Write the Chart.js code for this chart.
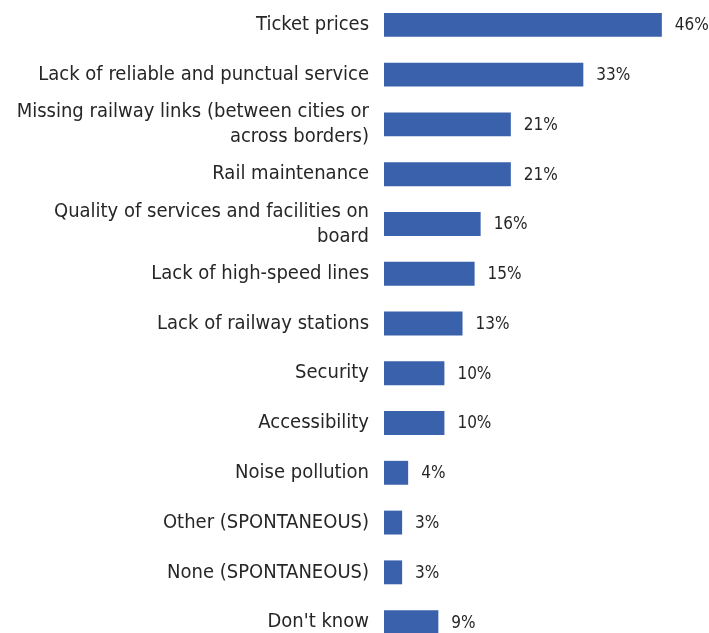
<!DOCTYPE html>
<html lang="en">
<head>
  <meta charset="UTF-8">
  <script src="https://cdn.jsdelivr.net/npm/chart.js"></script>
  <title>Rail problems</title>
  <style>
    html, body { margin: 0; padding: 0; background: #fff; overflow: hidden; }
    #wrap { width: 709px; height: 647px; }
  </style>
</head>
<body>
  <div id="wrap"><canvas id="chart"></canvas></div>
  <script>
    // Answers, top to bottom
    const categories = [
      'Ticket prices',
      'Lack of reliable and punctual service',
      ['Missing railway links (between cities or', 'across borders)'],
      'Rail maintenance',
      ['Quality of services and facilities on', 'board'],
      'Lack of high-speed lines',
      'Lack of railway stations',
      'Security',
      'Accessibility',
      'Noise pollution',
      'Other (SPONTANEOUS)',
      'None (SPONTANEOUS)',
      "Don't know"
    ];
    const shares = [46, 33, 21, 21, 16, 15, 13, 10, 10, 4, 3, 3, 9];

    const FONT = "'Liberation Sans Narrow', 'DejaVu Sans Condensed', 'Arial Narrow', sans-serif";

    // writes "NN%" just past the end of each bar
    const valueLabels = {
      id: 'valueLabels',
      afterDatasetsDraw(chart) {
        const ctx = chart.ctx;
        const meta = chart.getDatasetMeta(0);
        ctx.save();
        ctx.font = '17px ' + FONT;
        ctx.fillStyle = '#262626';
        ctx.textBaseline = 'middle';
        meta.data.forEach((bar, i) => {
          ctx.fillText(shares[i] + '%', bar.x + 13, bar.y + 1);
        });
        ctx.restore();
      }
    };

    new Chart(document.getElementById('chart'), {
      type: 'bar',
      data: {
        labels: categories,
        datasets: [{
          data: shares,
          backgroundColor: '#3A62AC',
          borderWidth: 0,
          categoryPercentage: 1,
          barPercentage: 0.48
        }]
      },
      options: {
        indexAxis: 'y',
        responsive: true,
        maintainAspectRatio: false,
        animation: false,
        layout: { padding: { left: 0, right: 23, top: 0, bottom: 0 } },
        plugins: { legend: { display: false }, tooltip: { enabled: false } },
        scales: {
          x: {
            display: false,
            min: 0,
            max: 50
          },
          y: {
            afterFit(axis) {
              axis.width = 384;
              axis.paddingTop = 0;
              axis.paddingBottom = 0;
            },
            grid: { display: false, drawTicks: false },
            border: { display: false },
            ticks: {
              autoSkip: false,
              color: '#262626',
              padding: 15,
              font: { family: FONT, size: 20, lineHeight: 1.25 }
            }
          }
        }
      },
      plugins: [valueLabels]
    });
  </script>
</body>
</html>
